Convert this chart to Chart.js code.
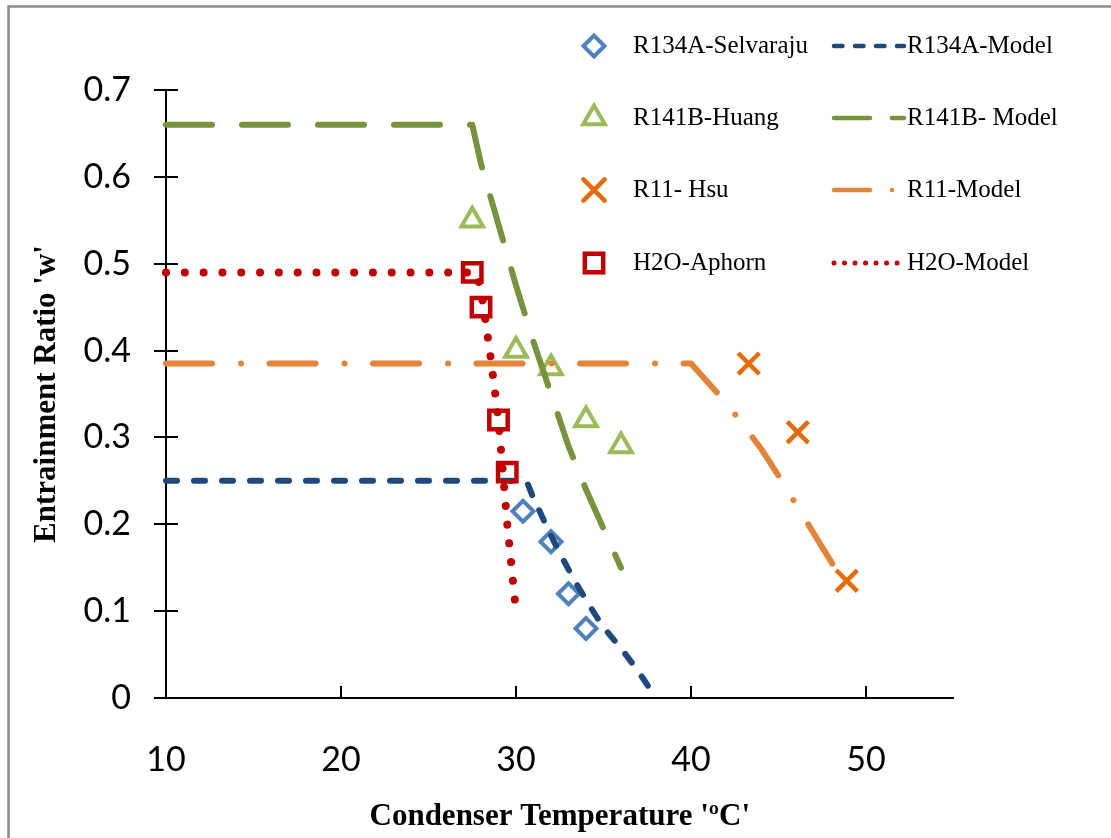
<!DOCTYPE html>
<html>
<head>
<meta charset="utf-8">
<title>Entrainment Ratio vs Condenser Temperature</title>
<script src="https://cdn.jsdelivr.net/npm/chart.js@4.4.1/dist/chart.umd.min.js"></script>
<style>
  html, body { margin: 0; padding: 0; background: #fff; }
  #wrap { position: relative; width: 1111px; height: 838px; }
</style>
</head>
<body>
<div id="wrap"><canvas id="chart" width="1111" height="838"></canvas></div>
<script>
// Experimental points: condenser temperature (°C) and entrainment ratio
const selvarajuT = [30.4, 32, 33, 34];
const selvarajuW = [0.215, 0.18, 0.12, 0.08];
const huangT = [27.5, 30, 32, 34, 36];
const huangW = [0.55, 0.40, 0.38, 0.32, 0.29];
const hsuT = [43.3, 46.1, 48.9];
const hsuW = [0.385, 0.306, 0.135];
const aphornT = [27.5, 28, 29, 29.5];
const aphornW = [0.49, 0.45, 0.32, 0.26];

// Model curves
const r134aModelT = [10, 30.5, 31, 32, 33, 34, 35, 36, 37, 38];
const r134aModelW = [0.25, 0.25, 0.23, 0.187, 0.148, 0.113, 0.082, 0.057, 0.03, 0];
const r141bModelT = [10, 27.5, 28, 29, 30, 31, 32, 33, 34, 35, 36];
const r141bModelW = [0.66, 0.66, 0.615, 0.545, 0.475, 0.41, 0.35, 0.29, 0.24, 0.195, 0.15];
const r11ModelT = [10, 40, 42, 43, 44, 45, 46, 47, 48, 48.5];
const r11ModelW = [0.385, 0.385, 0.34, 0.314, 0.287, 0.256, 0.223, 0.19, 0.157, 0.14];
const h2oModelT = [10, 27.7, 28, 28.5, 29, 29.5, 30];
const h2oModelW = [0.49, 0.49, 0.47, 0.40, 0.32, 0.2, 0.1];

// Axis ticks
const xTicks = [10, 20, 30, 40, 50];
const yTicks = [0, 0.1, 0.2, 0.3, 0.4, 0.5, 0.6, 0.7];

const toPoints = (xs, ys) => xs.map((x, i) => ({ x: x, y: ys[i] }));

function marker(label, xs, ys, color, style, radius, width) {
    return {
        label: label,
        data: toPoints(xs, ys),
        showLine: false,
        pointStyle: style,
        pointRadius: radius,
        pointHoverRadius: radius,
        pointBorderWidth: width,
        pointBorderColor: color,
        pointBackgroundColor: 'rgba(0,0,0,0)',
        borderColor: color,
        backgroundColor: color
    };
}

function model(label, xs, ys, color, width, dash, legendWidth, legendDash, smooth) {
    return {
        label: label,
        data: toPoints(xs, ys),
        showLine: true,
        pointRadius: 0,
        pointHoverRadius: 0,
        borderColor: color,
        backgroundColor: color,
        borderWidth: width,
        borderDash: dash,
        borderCapStyle: 'round',
        borderJoinStyle: 'round',
        cubicInterpolationMode: smooth ? 'monotone' : 'default',
        tension: 0,
        clip: false,
        legendWidth: legendWidth,
        legendDash: legendDash
    };
}

const datasets = [
    marker('R134A-Selvaraju', selvarajuT, selvarajuW, '#4F81BD', 'rectRot', 10.5, 4),
    model('R134A-Model', r134aModelT, r134aModelW, '#1F497D', 6, [11, 17], 4.5, [8.5, 12.5], true),
    marker('R141B-Huang', huangT, huangW, '#9BBB59', 'triangle', 12.5, 4),
    model('R141B- Model', r141bModelT, r141bModelW, '#77933C', 6, [46, 30], 4.5, [36, 22], false),
    marker('R11- Hsu', hsuT, hsuW, '#E46C0A', 'crossRot', 15, 4.5),
    model('R11-Model', r11ModelT, r11ModelW, '#E2843A', 6, [46, 29, 0.01, 28.5], 4.5, [36, 22, 0.01, 22], false),
    marker('H2O-Aphorn', aphornT, aphornW, '#C00000', 'rect', 13, 4.5),
    model('H2O-Model', h2oModelT, h2oModelW, '#C00000', 8, [0.01, 18.8], 5, [0.01, 10.5], false)
];
// later series sit on top of earlier ones
datasets.forEach((d, i) => { d.order = datasets.length - i; });

// Frame, axis tick marks and the two-column legend
const decorations = {
    id: 'decorations',
    beforeDraw(chart) {
        const ctx = chart.ctx;
        ctx.save();
        ctx.strokeStyle = '#8a8a8a';
        ctx.lineWidth = 2.5;
        ctx.beginPath();
        ctx.moveTo(8.5, 838);
        ctx.lineTo(8.5, 6.5);
        ctx.lineTo(1111, 6.5);
        ctx.stroke();
        ctx.restore();
    },
    beforeDatasetsDraw(chart) {
        const ctx = chart.ctx;
        const xs = chart.scales.x, ys = chart.scales.y;
        const area = chart.chartArea;
        ctx.save();
        ctx.strokeStyle = '#000';
        ctx.lineWidth = 2;
        ctx.beginPath();
        yTicks.forEach(v => {
            const py = Math.round(ys.getPixelForValue(v));
            ctx.moveTo(area.left - 12, py);
            ctx.lineTo(area.left + 12, py);
        });
        xTicks.forEach(v => {
            const px = Math.round(xs.getPixelForValue(v));
            ctx.moveTo(px, area.bottom);
            ctx.lineTo(px, area.bottom - 12);
        });
        ctx.stroke();
        ctx.restore();
    },
    afterDraw(chart) {
        const ctx = chart.ctx;
        const rows = [46, 118, 190, 263];
        ctx.save();
        ctx.font = '25px "Liberation Serif", "Times New Roman", serif';
        ctx.textBaseline = 'middle';
        ctx.textAlign = 'left';
        chart.data.datasets.forEach((d, i) => {
            const row = rows[Math.floor(i / 2)];
            if (!d.showLine) {
                ctx.fillStyle = 'rgba(0,0,0,0)';
                ctx.strokeStyle = d.pointBorderColor;
                ctx.lineWidth = d.pointBorderWidth;
                ctx.setLineDash([]);
                Chart.helpers.drawPoint(ctx, {
                    pointStyle: d.pointStyle,
                    radius: d.pointRadius,
                    borderWidth: d.pointBorderWidth,
                    rotation: 0
                }, 594, row);
                ctx.fillStyle = '#000';
                ctx.fillText(d.label, 633, row);
            } else {
                ctx.strokeStyle = d.borderColor;
                ctx.lineWidth = d.legendWidth;
                ctx.lineCap = 'round';
                ctx.setLineDash(d.legendDash);
                ctx.beginPath();
                ctx.moveTo(834, row);
                ctx.lineTo(904, row);
                ctx.stroke();
                ctx.setLineDash([]);
                ctx.fillStyle = '#000';
                ctx.fillText(d.label, 907, row);
            }
        });
        ctx.restore();
    }
};

const tickFont = { family: 'Lato, "Open Sans", sans-serif', size: 34 };
const titleFont = { family: '"Liberation Serif", "Times New Roman", serif', size: 31, weight: 'bold' };

new Chart(document.getElementById('chart'), {
    type: 'scatter',
    data: { datasets: datasets },
    options: {
        responsive: false,
        animation: false,
        events: [],
        layout: { padding: { left: 0, right: 157.5, top: 90, bottom: 0 } },
        plugins: {
            legend: { display: false },
            tooltip: { enabled: false }
        },
        scales: {
            x: {
                type: 'linear',
                min: 10,
                max: 55,
                afterBuildTicks: s => { s.ticks = xTicks.map(v => ({ value: v })); },
                afterFit: s => { s.height = 140; },
                grid: { display: false, drawTicks: false },
                border: { display: true, color: '#000', width: 2 },
                ticks: { color: '#000', font: tickFont, padding: 42, maxRotation: 0 },
                title: {
                    display: true,
                    text: "Condenser Temperature 'ºC'",
                    color: '#000',
                    font: titleFont,
                    padding: { top: 0, bottom: 2 }
                }
            },
            y: {
                type: 'linear',
                min: 0,
                max: 0.7,
                afterBuildTicks: s => { s.ticks = yTicks.map(v => ({ value: v })); },
                afterFit: s => { s.width = 166; },
                grid: { display: false, drawTicks: false },
                border: { display: true, color: '#000', width: 2 },
                ticks: {
                    color: '#000',
                    font: tickFont,
                    padding: 35,
                    callback: v => (v === 0 ? '0' : v.toFixed(1))
                },
                title: {
                    display: true,
                    text: "Entrainment Ratio 'w'",
                    color: '#000',
                    font: titleFont,
                    padding: { top: 28, bottom: 0 }
                }
            }
        }
    },
    plugins: [decorations]
});
</script>
</body>
</html>
